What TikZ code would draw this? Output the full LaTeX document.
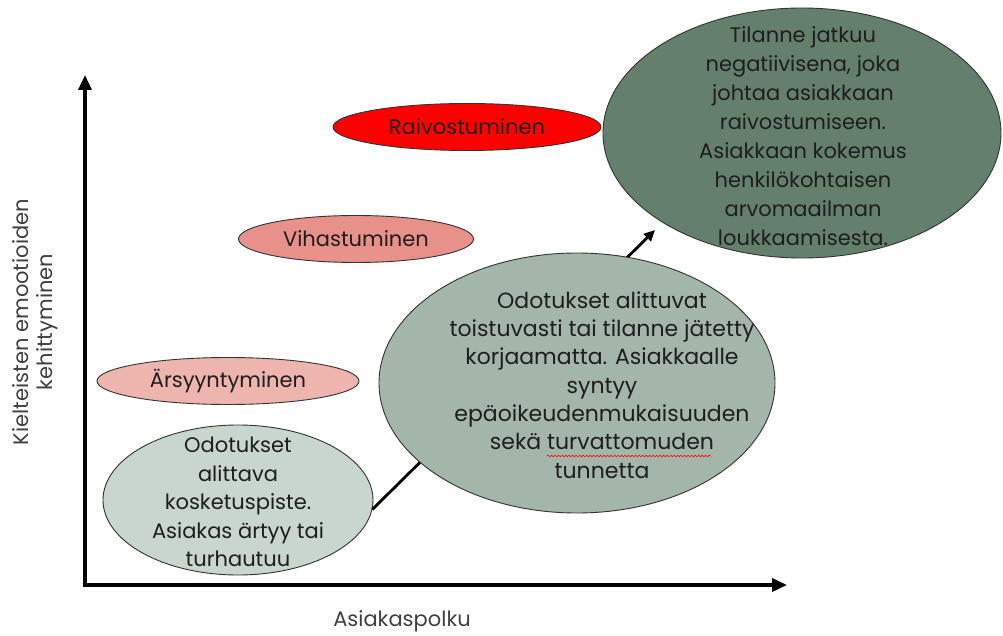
\documentclass[tikz,border=0pt]{standalone}
\usepackage{fontspec}
\setmainfont{Poppins}
\usetikzlibrary{shapes.geometric,arrows.meta,decorations.pathmorphing}
\definecolor{cred}{HTML}{FF0000}
\definecolor{cviha}{HTML}{E8918A}
\definecolor{cars}{HTML}{EEB4AE}
\definecolor{csmall}{HTML}{C9D6CD}
\definecolor{cmid}{HTML}{A3B6A9}
\definecolor{cbig}{HTML}{657F6D}
\definecolor{ctext}{HTML}{1E1E1E}
\definecolor{cgray}{HTML}{404040}
\tikzset{
  shell/.style={ellipse, draw=black!80, line width=0.9pt, inner sep=0pt},
  emo/.style={shell, text=ctext, font=\fontsize{21}{24}\selectfont},
  btext/.style={inner sep=0pt, text=ctext, align=center, font=\fontsize{21}{28.5}\selectfont},
  axis/.style={line width=3.5pt, -{Triangle[length=15pt,width=13pt]}},
  conn/.style={line width=2.8pt, -{Triangle[length=11pt,width=10pt]}},
  axlabel/.style={text=cgray, font=\fontsize{21}{23.5}\selectfont, align=center}
}
\begin{document}
\begin{tikzpicture}[x=1pt,y=-1pt]
\useasboundingbox (0,0) rectangle (1003,636);
% axes
\coordinate (origin) at (85,585);
\coordinate (ytop) at (85,75);
\coordinate (xend) at (787,585);
\draw[axis] ([xshift=-1.75pt]origin) -- (xend);
\draw[axis] ([yshift=1.75pt]origin) -- (ytop);
% axis labels
\node[axlabel, rotate=90] (ylab) at (35,322) {Kielteisten emootioiden\\kehittyminen};
\node[axlabel] (xlab) at (402,621) {Asiakaspolku};
% emotion ellipses
\node[emo, fill=cred, minimum width=268pt, minimum height=47pt] (raivo) at (467,127) {Raivostuminen};
\node[emo, fill=cviha, minimum width=235pt, minimum height=47pt] (viha) at (356,239) {Vihastuminen};
\node[emo, fill=cars, minimum width=262pt, minimum height=47pt] (ars) at (228,381) {Ärsyyntyminen};
% small bubble
\node[shell, fill=csmall, minimum width=270pt, minimum height=150pt] (small) at (238,500) {};
\node[btext] (smallT) at (238,502)
  {Odotukset\\alittava\\kosketuspiste.\\Asiakas ärtyy tai\\turhautuu};
% connector
\coordinate (tip) at (655,230);
\draw[conn] (small.-4) -- (tip);
% middle bubble
\node[shell, fill=cmid, minimum width=396pt, minimum height=260pt] (mid) at (577,383) {};
\node[btext, font=\fontsize{22}{28.3}\selectfont] (midT) at (602,385)
  {Odotukset alittuvat\\toistuvasti tai tilanne jätetty\\korjaamatta. Asiakkaalle\\syntyy\\epäoikeudenmukaisuuden\\sekä turvattomuden\\tunnetta};
\draw[red, line width=0.6pt, decorate, decoration={snake, amplitude=0.9pt, segment length=3.5pt}]
  ([xshift=-30pt, yshift=-73pt]mid.center) -- ([xshift=134pt, yshift=-73pt]mid.center);
% big bubble
\node[shell, fill=cbig, minimum width=398pt, minimum height=250pt] (big) at (802,133) {};
\node[btext, font=\fontsize{21}{28.9}\selectfont] (bigT) at (803,136)
  {Tilanne jatkuu\\negatiivisena, joka\\johtaa asiakkaan\\raivostumiseen.\\Asiakkaan kokemus\\henkilökohtaisen\\arvomaailman\\loukkaamisesta.};
\end{tikzpicture}
\end{document}
